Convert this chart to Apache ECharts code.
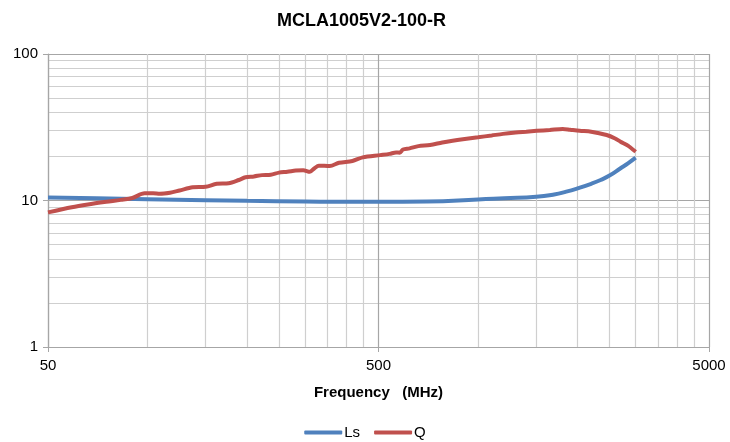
<html>
<head>
    <meta charset="utf-8">
    <title>MCLA1005V2-100-R</title>
    <script src="https://cdn.jsdelivr.net/npm/echarts@6/dist/echarts.min.js"></script>
</head>
<body style="margin:0">
    <div id="main" style="width:730px;height:442px;"></div>
    <script>
        // Ls curve (MHz / value)
        var lsFreq = [50, 70, 100, 150, 200, 300, 400, 500, 700, 1000, 1200, 1500, 1700, 1850, 2000, 2200, 2350, 2500, 2700, 2850, 3000];
        var lsVal = [10.5, 10.35, 10.2, 10.05, 9.95, 9.85, 9.8, 9.8, 9.85, 10.15, 10.35, 10.6, 11.0, 11.5, 12.1, 13.0, 13.8, 14.8, 16.6, 18.0, 19.6];

        // Q curve (noisy)
        var qFreq = [50, 59, 66, 75, 83, 90, 98, 104, 109, 117, 125, 137, 150, 162, 176, 189, 198, 210, 222, 236, 250, 265, 281, 296, 310, 320, 330, 356, 380, 417, 448, 506, 540, 565, 580, 593, 621, 660, 716, 780, 838, 900, 1000, 1100, 1190, 1300, 1400, 1505, 1650, 1805, 1900, 2030, 2200, 2450, 2600, 2700, 2850, 3000];
        var qVal = [8.3, 9.0, 9.4, 9.8, 10.1, 10.4, 11.2, 11.2, 11.1, 11.3, 11.7, 12.3, 12.4, 13.0, 13.1, 13.8, 14.4, 14.6, 14.9, 15.0, 15.5, 15.7, 16.0, 16.1, 15.7, 16.6, 17.3, 17.2, 18.1, 18.6, 19.7, 20.4, 20.8, 21.3, 21.2, 22.3, 22.7, 23.5, 23.9, 24.9, 25.6, 26.2, 27.0, 27.8, 28.5, 29.1, 29.5, 29.9, 30.3, 30.8, 30.4, 29.9, 29.5, 28.0, 26.5, 25.2, 23.6, 21.5];

        // axis ticks / gridlines
        var xMajor = [50, 500, 5000];
        var xMinor = [100, 150, 200, 250, 300, 350, 400, 450, 1000, 1500, 2000, 2500, 3000, 3500, 4000, 4500];
        var yMajor = [1, 10, 100];
        var yMinor = [2, 3, 4, 5, 6, 7, 8, 9, 20, 30, 40, 50, 60, 70, 80, 90];

        function pairs(xs, ys) {
            var out = [];
            for (var i = 0; i < xs.length; i++) out.push([xs[i], ys[i]]);
            return out;
        }

        var font = 'Liberation Sans';
        var myChart = echarts.init(document.getElementById('main'));

        var option = {
            backgroundColor: '#fff',
            animation: false,
            title: {
                text: 'MCLA1005V2-100-R',
                left: 272,
                top: 7,
                textStyle: { fontFamily: font, fontSize: 18, fontWeight: 'bold', color: '#000' }
            },
            legend: {
                data: ['Ls', 'Q'],
                bottom: -3,
                left: 'center',
                icon: 'roundRect',
                itemWidth: 38,
                itemHeight: 4,
                itemGap: 14,
                textStyle: { fontFamily: font, fontSize: 15, color: '#000', padding: [0, 0, 0, -3] }
            },
            grid: { left: 48, right: 21, top: 54, bottom: 95 },
            xAxis: [{
                // minor grid
                type: 'log', min: 50, max: 5000,
                axisLine: { show: false },
                axisTick: { show: false, customValues: xMinor },
                axisLabel: { show: false },
                splitLine: { show: true, lineStyle: { color: '#cfcfcf', width: 1.2 } }
            }, {
                // major grid, labels
                type: 'log', min: 50, max: 5000,
                position: 'bottom',
                name: 'Frequency   (MHz)',
                nameLocation: 'middle',
                nameGap: 38,
                nameTextStyle: { fontFamily: font, fontSize: 15, fontWeight: 'bold', color: '#000' },
                axisLine: { show: true, lineStyle: { color: '#a6a6a6', width: 1.2 } },
                axisTick: { show: true, length: 5, customValues: xMajor, lineStyle: { color: '#a6a6a6' } },
                axisLabel: {
                    customValues: xMajor, margin: 11,
                    fontFamily: font, fontSize: 15, color: '#000',
                    formatter: function (v) { return String(Math.round(v)); }
                },
                splitLine: { show: true, lineStyle: { color: '#a6a6a6', width: 1.2 } }
            }],
            yAxis: [{
                type: 'log', min: 1, max: 100,
                axisLine: { show: false },
                axisTick: { show: false, customValues: yMinor },
                axisLabel: { show: false },
                splitLine: { show: true, lineStyle: { color: '#cfcfcf', width: 1.2 } }
            }, {
                type: 'log', min: 1, max: 100,
                position: 'left',
                axisLine: { show: true, lineStyle: { color: '#a6a6a6', width: 1.2 } },
                axisTick: { show: true, length: 5, customValues: yMajor, lineStyle: { color: '#a6a6a6' } },
                axisLabel: {
                    customValues: yMajor, margin: 10,
                    fontFamily: font, fontSize: 15, color: '#000',
                    formatter: function (v) { return String(Math.round(v)); }
                },
                splitLine: { show: true, lineStyle: { color: '#a6a6a6', width: 1.2 } }
            }],
            series: [{
                name: 'Ls',
                type: 'line',
                data: pairs(lsFreq, lsVal),
                smooth: true,
                showSymbol: false,
                lineStyle: { color: '#4f81bd', width: 4 },
                itemStyle: { color: '#4f81bd' }
            }, {
                name: 'Q',
                type: 'line',
                data: pairs(qFreq, qVal),
                smooth: 0.3,
                showSymbol: false,
                lineStyle: { color: '#c0504d', width: 4 },
                itemStyle: { color: '#c0504d' }
            }]
        };
        myChart.setOption(option);
    </script>
</body>
</html>
